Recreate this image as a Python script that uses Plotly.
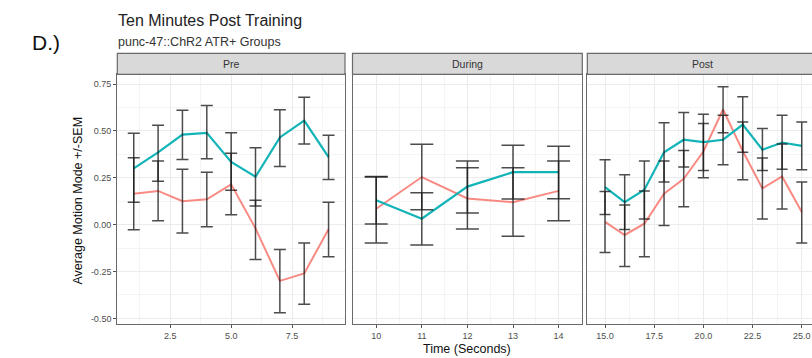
import plotly.graph_objects as go

# ---------------- data ----------------
panels = ["Pre", "During", "Post"]

pre_x = [1, 2, 3, 4, 5, 6, 7, 8, 9]
pre_red = [0.165, 0.18, 0.125, 0.135, 0.215, -0.02, -0.30, -0.26, -0.025]
pre_red_lo = [-0.027, 0.021, -0.044, -0.011, 0.053, -0.186, -0.47, -0.425, -0.171]
pre_red_hi = [0.357, 0.34, 0.295, 0.279, 0.381, 0.13, -0.133, -0.098, 0.12]
pre_teal = [0.30, 0.385, 0.48, 0.49, 0.335, 0.255, 0.465, 0.555, 0.36]
pre_teal_lo = [0.12, 0.232, 0.347, 0.352, 0.183, 0.10, 0.31, 0.43, 0.241]
pre_teal_hi = [0.487, 0.53, 0.61, 0.636, 0.49, 0.41, 0.613, 0.679, 0.477]

dur_x = [10, 11, 12, 13, 14]
dur_red = [0.085, 0.254, 0.14, 0.12, 0.18]
dur_red_lo = [-0.098, 0.079, -0.023, -0.0625, 0.021]
dur_red_hi = [0.257, 0.429, 0.304, 0.304, 0.339]
dur_teal = [0.13, 0.032, 0.203, 0.28, 0.28]
dur_teal_lo = [0.004, -0.109, 0.0625, 0.137, 0.1375]
dur_teal_hi = [0.254, 0.17, 0.339, 0.423, 0.418]

post_x = [15, 16, 17, 18, 19, 20, 21, 22, 23, 24, 25]
post_red = [0.015, -0.055, 0.005, 0.165, 0.245, 0.39, 0.614, 0.393, 0.193, 0.257, 0.068]
post_red_lo = [-0.148, -0.223, -0.171, -0.005, 0.096, 0.25, 0.49, 0.239, 0.03, 0.084, -0.098]
post_red_hi = [0.177, 0.105, 0.18, 0.339, 0.396, 0.539, 0.736, 0.547, 0.355, 0.43, 0.227]
post_teal = [0.20, 0.12, 0.186, 0.386, 0.453, 0.44, 0.453, 0.534, 0.40, 0.438, 0.42]
post_teal_lo = [0.054, -0.026, 0.03, 0.227, 0.307, 0.289, 0.32, 0.386, 0.289, 0.295, 0.293]
post_teal_hi = [0.346, 0.266, 0.339, 0.543, 0.598, 0.589, 0.584, 0.682, 0.5125, 0.584, 0.548]

y_tickvals = [-0.5, -0.25, 0.0, 0.25, 0.5, 0.75]
y_ticktext = ["-0.50", "-0.25", "0.00", "0.25", "0.50", "0.75"]
y_minor = [-0.375, -0.125, 0.125, 0.375, 0.625]

pre_tickvals = [2.5, 5.0, 7.5]
pre_ticktext = ["2.5", "5.0", "7.5"]
pre_minor = [1.25, 3.75, 6.25, 8.75]
dur_tickvals = [10, 11, 12, 13, 14]
dur_ticktext = ["10", "11", "12", "13", "14"]
dur_minor = [10.5, 11.5, 12.5, 13.5]
post_tickvals = [15.0, 17.5, 20.0, 22.5, 25.0]
post_ticktext = ["15.0", "17.5", "20.0", "22.5", "25.0"]
post_minor = [16.25, 18.75, 21.25, 23.75]

# ---------------- styling ----------------
W, H = 812, 358
RED = "rgba(248,118,109,0.85)"
TEAL = "#12B4B8"
ERR = "rgba(25,25,25,0.78)"
FONT = "Arial, Liberation Sans, sans-serif"

x_domains = [(117.3 / W, 345.0 / W), (352.5 / W, 582.3 / W), (587.3 / W, 1.0)]
y_domain = (1 - 324.0 / H, 1 - 74.3 / H)
strip_top = 1 - 53.3 / H
x_ranges = [[0.325, 9.675], [9.48, 14.52], [14.1, 25.52]]
y_range = [-0.530, 0.802]
err_widths = [6, 11.5, 5.5]

fig = go.Figure()

groups = [
    (pre_x, pre_red, pre_red_lo, pre_red_hi, pre_teal, pre_teal_lo, pre_teal_hi),
    (dur_x, dur_red, dur_red_lo, dur_red_hi, dur_teal, dur_teal_lo, dur_teal_hi),
    (post_x, post_red, post_red_lo, post_red_hi, post_teal, post_teal_lo, post_teal_hi),
]

for i, (xs, r, rlo, rhi, t, tlo, thi) in enumerate(groups):
    xa = "x" if i == 0 else f"x{i+1}"
    ya = "y" if i == 0 else f"y{i+1}"
    fig.add_trace(go.Scatter(x=xs, y=r, mode="lines", line=dict(color=RED, width=2),
                             xaxis=xa, yaxis=ya, showlegend=False, hoverinfo="skip"))
    fig.add_trace(go.Scatter(x=xs, y=t, mode="lines", line=dict(color=TEAL, width=2.2),
                             xaxis=xa, yaxis=ya, showlegend=False, hoverinfo="skip"))
    for m, lo, hi in ((r, rlo, rhi), (t, tlo, thi)):
        fig.add_trace(go.Scatter(
            x=xs, y=m, mode="markers",
            marker=dict(size=1, color="rgba(0,0,0,0)"),
            error_y=dict(type="data", symmetric=False,
                         array=[h - v for h, v in zip(hi, m)],
                         arrayminus=[v - l for v, l in zip(m, lo)],
                         color=ERR, thickness=1.5, width=err_widths[i]),
            xaxis=xa, yaxis=ya, showlegend=False, hoverinfo="skip"))

x_ticks = [(pre_tickvals, pre_ticktext, pre_minor),
           (dur_tickvals, dur_ticktext, dur_minor),
           (post_tickvals, post_ticktext, post_minor)]

layout = dict(
    width=W, height=H,
    margin=dict(l=0, r=0, t=0, b=0),
    paper_bgcolor="white", plot_bgcolor="white",
    font=dict(family=FONT),
    showlegend=False,
)

BORDER = "#6a6a6a"
for i in range(3):
    xk = "xaxis" if i == 0 else f"xaxis{i+1}"
    yk = "yaxis" if i == 0 else f"yaxis{i+1}"
    ya = "y" if i == 0 else f"y{i+1}"
    xa = "x" if i == 0 else f"x{i+1}"
    tv, tt, mn = x_ticks[i]
    layout[xk] = dict(
        domain=list(x_domains[i]), range=x_ranges[i], anchor=ya,
        tickvals=tv, ticktext=tt, ticks="outside", ticklen=3, tickwidth=1, tickcolor="#555",
        tickfont=dict(size=9, color="#4D4D4D"),
        showgrid=True, gridcolor="#EBEBEB", gridwidth=1,
        minor=dict(tickvals=mn, showgrid=True, gridcolor="#F4F4F4", gridwidth=1, ticks=""),
        showline=True, linecolor=BORDER, linewidth=1.2, mirror=True,
        zeroline=False, fixedrange=True,
    )
    layout[yk] = dict(
        domain=list(y_domain), range=y_range, anchor=xa,
        tickvals=y_tickvals, ticktext=y_ticktext,
        ticks="outside" if i == 0 else "", ticklen=3, tickwidth=1, tickcolor="#555",
        showticklabels=(i == 0),
        tickfont=dict(size=9, color="#4D4D4D"),
        showgrid=True, gridcolor="#EBEBEB", gridwidth=1,
        minor=dict(tickvals=y_minor, showgrid=True, gridcolor="#F4F4F4", gridwidth=1, ticks=""),
        showline=True, linecolor=BORDER, linewidth=1.2, mirror=(i < 2),
        zeroline=False, fixedrange=True,
    )

fig.update_layout(**layout)

# strips
strip_centers = [(117.3 + 345.0) / 2 / W, (352.5 + 582.3) / 2 / W, 702.0 / W]
for i, name in enumerate(panels):
    x0, x1 = x_domains[i]
    if i == 2:
        x1 = 1.01
    fig.add_shape(type="rect", xref="paper", yref="paper",
                  x0=x0, x1=x1, y0=y_domain[1], y1=strip_top,
                  fillcolor="#D9D9D9", line=dict(color=BORDER, width=1.2), layer="above")
    fig.add_annotation(text=name, xref="paper", yref="paper",
                       x=strip_centers[i], y=(y_domain[1] + strip_top) / 2,
                       showarrow=False, font=dict(size=10.5, color="#333333"),
                       xanchor="center", yanchor="middle")

# titles
fig.add_annotation(text="Ten Minutes Post Training", xref="paper", yref="paper",
                   x=115.5 / W, y=1 - 20.5 / H, xanchor="left", yanchor="middle",
                   showarrow=False, font=dict(size=16, color="#222222"))
fig.add_annotation(text="punc-47::ChR2 ATR+ Groups", xref="paper", yref="paper",
                   x=116 / W, y=1 - 41.5 / H, xanchor="left", yanchor="middle",
                   showarrow=False, font=dict(size=12.5, color="#333333"))
fig.add_annotation(text="D.)", xref="paper", yref="paper",
                   x=30 / W, y=1 - 43 / H, xanchor="left", yanchor="middle",
                   showarrow=False, font=dict(size=21, color="#111111"))

# axis titles
fig.add_annotation(text="Average Motion Mode +/-SEM", xref="paper", yref="paper",
                   x=77 / W, y=1 - 200.5 / H, xanchor="center", yanchor="middle",
                   textangle=-90, showarrow=False, font=dict(size=12.5, color="#111111"))
fig.add_annotation(text="Time (Seconds)", xref="paper", yref="paper",
                   x=466.5 / W, y=1 - 349 / H, xanchor="center", yanchor="middle",
                   showarrow=False, font=dict(size=12.5, color="#111111"))

fig.write_html(
    "out.html",
    config={"displayModeBar": False, "responsive": False},
    post_script="document.body.style.margin='0';document.body.style.overflow='hidden';",
)
